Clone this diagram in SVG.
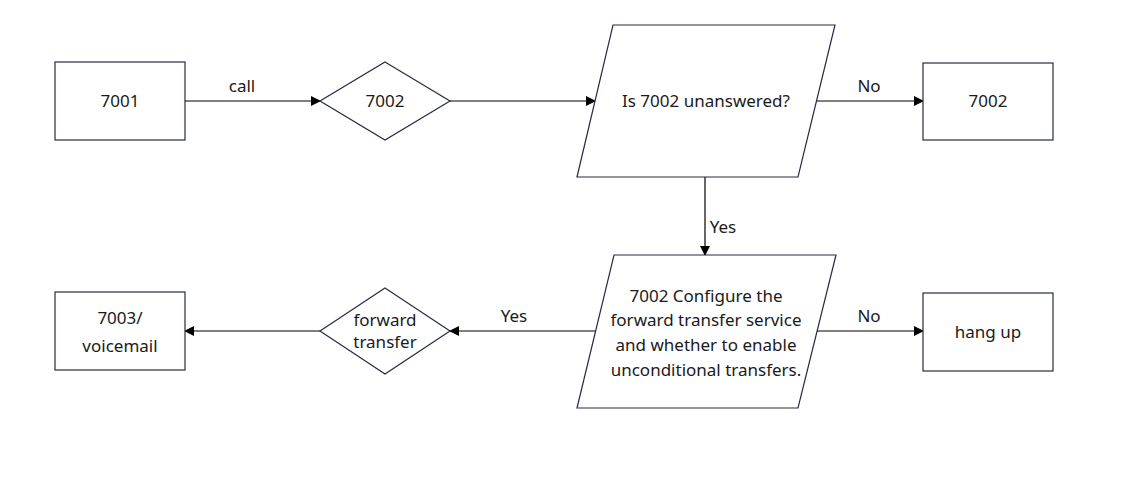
<svg xmlns="http://www.w3.org/2000/svg" width="1125" height="477" viewBox="0 0 1125 477">
<defs>
<style>
.shape{fill:#fff;stroke:#262a45;stroke-width:1.2}
.t{font-family:"Noto Sans","Open Sans",sans-serif;font-size:17px;fill:#1a1a1a;text-anchor:middle}
.c{stroke:#000;stroke-width:1.2;fill:none;marker-end:url(#ah)}
</style>
<marker id="ah" markerWidth="10" markerHeight="10" refX="9" refY="5" orient="auto" markerUnits="userSpaceOnUse">
<path d="M0,0 L10,5 L0,10 Z" fill="#000"/>
</marker>
</defs>
<rect width="1125" height="477" fill="#fff"/>
<g id="connectors">
<line class="c" x1="185" y1="101" x2="320" y2="101"/>
<text class="t" x="242" y="92">call</text>
<line class="c" x1="450" y1="101" x2="595" y2="101"/>
<line class="c" x1="817" y1="101" x2="923" y2="101"/>
<text class="t" x="869" y="92">No</text>
<line class="c" x1="705" y1="177" x2="705" y2="255"/>
<text class="t" x="723" y="233">Yes</text>
<line class="c" x1="817" y1="331" x2="923" y2="331"/>
<text class="t" x="869" y="322">No</text>
<line class="c" x1="596" y1="331" x2="450" y2="331"/>
<text class="t" x="514" y="322">Yes</text>
<line class="c" x1="320" y1="331" x2="185" y2="331"/>
</g>
<g id="n7001">
<rect class="shape" x="55" y="62" width="130" height="78"/>
<text class="t" x="120" y="107">7001</text>
</g>
<g id="n7002d">
<polygon class="shape" points="385,62 450,101 385,140 320,101"/>
<text class="t" x="385" y="107">7002</text>
</g>
<g id="q1">
<polygon class="shape" points="613,25 835,25 798,177 577,177"/>
<text class="t" x="706" y="107">Is 7002 unanswered?</text>
</g>
<g id="n7002b">
<rect class="shape" x="923" y="63" width="130" height="77"/>
<text class="t" x="988" y="107">7002</text>
</g>
<g id="q2">
<polygon class="shape" points="614,255 836,255 798,408 577,408"/>
<text class="t" x="706" y="302">7002 Configure the</text>
<text class="t" x="706" y="326">forward transfer service</text>
<text class="t" x="706" y="351">and whether to enable</text>
<text class="t" x="706" y="376">unconditional transfers.</text>
</g>
<g id="hangup">
<rect class="shape" x="923" y="293" width="130" height="78"/>
<text class="t" x="988" y="338">hang up</text>
</g>
<g id="fwd">
<polygon class="shape" points="385,288 450,331 385,374 320,331"/>
<text class="t" x="385" y="326">forward</text>
<text class="t" x="385" y="348">transfer</text>
</g>
<g id="n7003">
<rect class="shape" x="55" y="292" width="130" height="78"/>
<text class="t" x="120" y="324">7003/</text>
<text class="t" x="120" y="352">voicemail</text>
</g>
</svg>
